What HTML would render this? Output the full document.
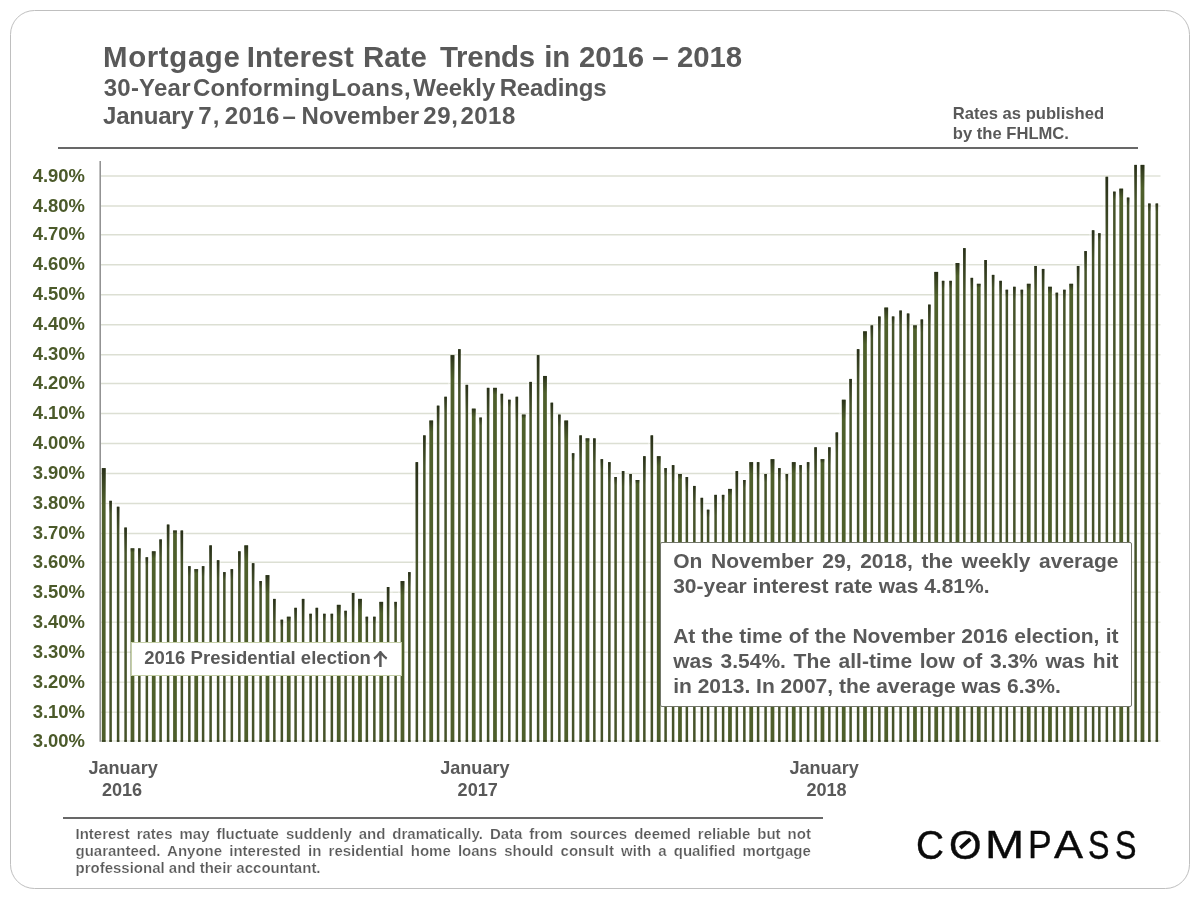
<!DOCTYPE html>
<html lang="en">
<head>
<meta charset="utf-8">
<title>Mortgage Interest Rate Trends in 2016 – 2018</title>
<style>
html,body{margin:0;padding:0;background:#fff;}
body{width:1200px;height:900px;position:relative;overflow:hidden;font-family:"Liberation Sans",sans-serif;color:#595959;font-weight:bold;}
.frame{position:absolute;left:10.2px;top:10.2px;width:1179.9px;height:879.2px;border:1.6px solid #bfbfbf;border-radius:24.5px;box-sizing:border-box;background:#fff;}
.abs{position:absolute;white-space:pre;}
.wl{position:absolute;left:0;width:1200px;white-space:pre;}
.wl span{position:absolute;top:0;}
.rule{position:absolute;background:#686868;height:2.2px;}
.elec{position:absolute;left:130.5px;top:642px;width:271px;height:34px;box-sizing:border-box;border:1px solid #c5cfa8;background:#fff;}
.arr{position:absolute;overflow:hidden;width:16px;height:15.8px;}
.arr span{position:absolute;left:-6.65px;top:-9.96px;font-family:"Noto Sans CJK JP","DejaVu Sans",sans-serif;font-weight:500;font-size:29.3px;line-height:43.95px;white-space:pre;}
.box{position:absolute;left:660.4px;top:542px;width:471.6px;height:164.6px;box-sizing:border-box;border:1.5px solid #73776a;border-radius:2px;background:#fff;}
svg{position:absolute;left:0;top:0;}
.logo{position:absolute;left:0;width:1200px;height:50px;font-weight:normal;font-size:38.1px;line-height:50px;color:#0a0a0a;white-space:pre;-webkit-text-stroke:0.4px #0a0a0a;}
.logo span{position:absolute;top:0;transform-origin:0 23.9px;}
.yl text{font-family:"Liberation Sans",sans-serif;font-weight:bold;}
</style>
</head>
<body>
<div class="frame"></div>
<div class="wl title" style="top:38.71px;font-size:29.4px;line-height:35px;"><span style="left:103.10px;letter-spacing:0.636px">Mortgage </span><span style="left:246.70px;letter-spacing:0.150px">Interest </span><span style="left:362.90px;letter-spacing:0.050px">Rate </span><span style="left:440.05px;letter-spacing:-0.260px">Trends </span><span style="left:544.20px;letter-spacing:-0.150px">in </span><span style="left:579.00px;letter-spacing:-0.083px">2016 </span><span style="left:652.30px;letter-spacing:0.000px">– </span><span style="left:677.00px;letter-spacing:-0.067px">2018</span></div>
<div class="wl sub" style="top:73.08px;font-size:24px;line-height:29px;"><span style="left:103.75px;letter-spacing:0.225px">30-Year </span><span style="left:193.10px;letter-spacing:0.083px">Conforming </span><span style="left:331.60px;letter-spacing:0.330px">Loans, </span><span style="left:413.30px;letter-spacing:-0.060px">Weekly </span><span style="left:499.70px;letter-spacing:-0.171px">Readings</span></div>
<div class="wl sub" style="top:101.08px;font-size:24px;line-height:29px;"><span style="left:103.10px;letter-spacing:-0.225px">January </span><span style="left:198.20px;letter-spacing:1.200px">7, </span><span style="left:224.75px;letter-spacing:0.417px">2016 </span><span style="left:282.45px;letter-spacing:0.000px">– </span><span style="left:301.60px;letter-spacing:0.029px">November </span><span style="left:423.15px;letter-spacing:0.650px">29, </span><span style="left:460.55px;letter-spacing:0.433px">2018</span></div>
<div class="abs" style="left:952.8px;top:103px;font-size:16.6px;line-height:21px;height:21px;">Rates as published</div>
<div class="abs" style="left:952.8px;top:123px;font-size:16.6px;line-height:21px;height:21px;">by the FHLMC.</div>
<div class="rule" style="left:58px;top:147px;width:1080px;"></div>
<svg width="1200" height="900" viewBox="0 0 1200 900">
<defs>
<linearGradient id="cap" x1="0" y1="0" x2="0" y2="1">
<stop offset="0" stop-color="#252b18" stop-opacity="0.92"/>
<stop offset="0.3" stop-color="#282e19" stop-opacity="0.62"/>
<stop offset="1" stop-color="#2c331b" stop-opacity="0"/>
</linearGradient>
</defs>
<g stroke="#dcdfd3" stroke-width="1.3" fill="none">
<line x1="270.9" x2="384.7" y1="592.25" y2="592.25"/>
<line x1="392.2" x2="398.4" y1="592.25" y2="592.25"/>
<line x1="185.9" x2="207.2" y1="562.25" y2="562.25"/>
<line x1="220.9" x2="235.9" y1="562.25" y2="562.25"/>
<line x1="249.7" x2="413.4" y1="562.25" y2="562.25"/>
<line x1="128.4" x2="164.7" y1="533.50" y2="533.50"/>
<line x1="185.9" x2="413.4" y1="533.50" y2="533.50"/>
<line x1="114.6" x2="413.4" y1="503.50" y2="503.50"/>
<line x1="704.6" x2="712.1" y1="503.50" y2="503.50"/>
<line x1="107.1" x2="413.4" y1="473.50" y2="473.50"/>
<line x1="612.1" x2="619.6" y1="473.50" y2="473.50"/>
<line x1="627.1" x2="640.9" y1="473.50" y2="473.50"/>
<line x1="675.9" x2="733.4" y1="473.50" y2="473.50"/>
<line x1="740.9" x2="747.1" y1="473.50" y2="473.50"/>
<line x1="762.1" x2="768.4" y1="473.50" y2="473.50"/>
<line x1="783.4" x2="789.6" y1="473.50" y2="473.50"/>
<line x1="101.0" x2="420.9" y1="443.50" y2="443.50"/>
<line x1="569.6" x2="577.1" y1="443.50" y2="443.50"/>
<line x1="598.4" x2="648.4" y1="443.50" y2="443.50"/>
<line x1="654.6" x2="833.4" y1="443.50" y2="443.50"/>
<line x1="101.0" x2="434.7" y1="413.50" y2="413.50"/>
<line x1="477.2" x2="484.7" y1="413.50" y2="413.50"/>
<line x1="519.6" x2="527.1" y1="413.50" y2="413.50"/>
<line x1="555.9" x2="839.6" y1="413.50" y2="413.50"/>
<line x1="101.0" x2="448.4" y1="383.50" y2="383.50"/>
<line x1="463.4" x2="527.1" y1="383.50" y2="383.50"/>
<line x1="548.4" x2="847.1" y1="383.50" y2="383.50"/>
<line x1="101.0" x2="455.9" y1="354.75" y2="354.75"/>
<line x1="463.4" x2="854.6" y1="354.75" y2="354.75"/>
<line x1="101.0" x2="875.9" y1="324.75" y2="324.75"/>
<line x1="910.9" x2="918.4" y1="324.75" y2="324.75"/>
<line x1="101.0" x2="932.1" y1="294.75" y2="294.75"/>
<line x1="101.0" x2="953.4" y1="264.75" y2="264.75"/>
<line x1="968.4" x2="982.1" y1="264.75" y2="264.75"/>
<line x1="989.6" x2="1082.1" y1="264.75" y2="264.75"/>
<line x1="101.0" x2="1089.6" y1="234.75" y2="234.75"/>
<line x1="101.0" x2="1103.4" y1="206.00" y2="206.00"/>
<line x1="101.0" x2="1132.1" y1="176.00" y2="176.00"/>
<line x1="1145.9" x2="1160.5" y1="176.00" y2="176.00"/>
</g>
<g stroke="#e6e8de" stroke-width="1.3" fill="none">
<line x1="101.0" x2="1160.5" y1="741.00" y2="741.00"/>
<line x1="101.0" x2="1160.5" y1="712.25" y2="712.25"/>
<line x1="101.0" x2="1160.5" y1="682.25" y2="682.25"/>
<line x1="101.0" x2="1160.5" y1="652.25" y2="652.25"/>
<line x1="101.0" x2="1160.5" y1="622.25" y2="622.25"/>
<line x1="101.0" x2="270.9" y1="592.25" y2="592.25"/>
<line x1="384.7" x2="392.2" y1="592.25" y2="592.25"/>
<line x1="398.4" x2="1160.5" y1="592.25" y2="592.25"/>
<line x1="101.0" x2="185.9" y1="562.25" y2="562.25"/>
<line x1="207.2" x2="220.9" y1="562.25" y2="562.25"/>
<line x1="235.9" x2="249.7" y1="562.25" y2="562.25"/>
<line x1="413.4" x2="1160.5" y1="562.25" y2="562.25"/>
<line x1="101.0" x2="128.4" y1="533.50" y2="533.50"/>
<line x1="164.7" x2="185.9" y1="533.50" y2="533.50"/>
<line x1="413.4" x2="1160.5" y1="533.50" y2="533.50"/>
<line x1="101.0" x2="114.6" y1="503.50" y2="503.50"/>
<line x1="413.4" x2="704.6" y1="503.50" y2="503.50"/>
<line x1="712.1" x2="1160.5" y1="503.50" y2="503.50"/>
<line x1="101.0" x2="107.1" y1="473.50" y2="473.50"/>
<line x1="413.4" x2="612.1" y1="473.50" y2="473.50"/>
<line x1="619.6" x2="627.1" y1="473.50" y2="473.50"/>
<line x1="640.9" x2="675.9" y1="473.50" y2="473.50"/>
<line x1="733.4" x2="740.9" y1="473.50" y2="473.50"/>
<line x1="747.1" x2="762.1" y1="473.50" y2="473.50"/>
<line x1="768.4" x2="783.4" y1="473.50" y2="473.50"/>
<line x1="789.6" x2="1160.5" y1="473.50" y2="473.50"/>
<line x1="420.9" x2="569.6" y1="443.50" y2="443.50"/>
<line x1="577.1" x2="598.4" y1="443.50" y2="443.50"/>
<line x1="648.4" x2="654.6" y1="443.50" y2="443.50"/>
<line x1="833.4" x2="1160.5" y1="443.50" y2="443.50"/>
<line x1="434.7" x2="477.2" y1="413.50" y2="413.50"/>
<line x1="484.7" x2="519.6" y1="413.50" y2="413.50"/>
<line x1="527.1" x2="555.9" y1="413.50" y2="413.50"/>
<line x1="839.6" x2="1160.5" y1="413.50" y2="413.50"/>
<line x1="448.4" x2="463.4" y1="383.50" y2="383.50"/>
<line x1="527.1" x2="548.4" y1="383.50" y2="383.50"/>
<line x1="847.1" x2="1160.5" y1="383.50" y2="383.50"/>
<line x1="455.9" x2="463.4" y1="354.75" y2="354.75"/>
<line x1="854.6" x2="1160.5" y1="354.75" y2="354.75"/>
<line x1="875.9" x2="910.9" y1="324.75" y2="324.75"/>
<line x1="918.4" x2="1160.5" y1="324.75" y2="324.75"/>
<line x1="932.1" x2="1160.5" y1="294.75" y2="294.75"/>
<line x1="953.4" x2="968.4" y1="264.75" y2="264.75"/>
<line x1="982.1" x2="989.6" y1="264.75" y2="264.75"/>
<line x1="1082.1" x2="1160.5" y1="264.75" y2="264.75"/>
<line x1="1089.6" x2="1160.5" y1="234.75" y2="234.75"/>
<line x1="1103.4" x2="1160.5" y1="206.00" y2="206.00"/>
<line x1="1132.1" x2="1145.9" y1="176.00" y2="176.00"/>
</g>
<line x1="100.2" x2="100.2" y1="161" y2="741.8" stroke="#8e8e8e" stroke-width="1.5"/>
<g>
<g>
<rect x="101.85" y="468.12" width="3.75" height="273.68" fill="#4e5f2b"/>
<rect x="109.35" y="500.82" width="2.50" height="240.98" fill="#46532a"/>
<rect x="116.85" y="506.76" width="2.50" height="235.04" fill="#46532a"/>
<rect x="124.35" y="527.57" width="2.50" height="214.23" fill="#46532a"/>
<rect x="130.60" y="548.38" width="3.75" height="193.42" fill="#4e5f2b"/>
<rect x="138.10" y="548.38" width="2.50" height="193.42" fill="#46532a"/>
<rect x="145.60" y="557.30" width="2.50" height="184.50" fill="#46532a"/>
<rect x="151.85" y="551.35" width="3.75" height="190.45" fill="#4e5f2b"/>
<rect x="159.35" y="539.46" width="2.50" height="202.34" fill="#46532a"/>
<rect x="166.85" y="524.60" width="2.50" height="217.20" fill="#46532a"/>
<rect x="173.10" y="530.54" width="3.75" height="211.26" fill="#4e5f2b"/>
<rect x="180.60" y="530.54" width="2.50" height="211.26" fill="#46532a"/>
<rect x="188.10" y="566.21" width="2.50" height="175.59" fill="#46532a"/>
<rect x="194.35" y="569.19" width="3.75" height="172.61" fill="#4e5f2b"/>
<rect x="201.85" y="566.21" width="2.50" height="175.59" fill="#46532a"/>
<rect x="209.35" y="545.41" width="2.50" height="196.39" fill="#46532a"/>
<rect x="216.85" y="560.27" width="2.50" height="181.53" fill="#46532a"/>
<rect x="223.10" y="572.16" width="2.50" height="169.64" fill="#46532a"/>
<rect x="230.60" y="569.19" width="2.50" height="172.61" fill="#46532a"/>
<rect x="238.10" y="551.35" width="2.50" height="190.45" fill="#46532a"/>
<rect x="244.35" y="545.41" width="3.75" height="196.39" fill="#4e5f2b"/>
<rect x="251.85" y="563.24" width="2.50" height="178.56" fill="#46532a"/>
<rect x="259.35" y="581.08" width="2.50" height="160.72" fill="#46532a"/>
<rect x="265.60" y="575.13" width="3.75" height="166.67" fill="#4e5f2b"/>
<rect x="273.10" y="598.91" width="2.50" height="142.89" fill="#46532a"/>
<rect x="280.60" y="619.72" width="2.50" height="122.08" fill="#46532a"/>
<rect x="286.85" y="616.75" width="3.75" height="125.05" fill="#4e5f2b"/>
<rect x="294.35" y="607.83" width="2.50" height="133.97" fill="#46532a"/>
<rect x="301.85" y="598.91" width="2.50" height="142.89" fill="#46532a"/>
<rect x="309.35" y="613.78" width="2.50" height="128.02" fill="#46532a"/>
<rect x="315.60" y="607.83" width="2.50" height="133.97" fill="#46532a"/>
<rect x="323.10" y="613.78" width="2.50" height="128.02" fill="#46532a"/>
<rect x="330.60" y="613.78" width="2.50" height="128.02" fill="#46532a"/>
<rect x="336.85" y="604.86" width="3.75" height="136.94" fill="#4e5f2b"/>
<rect x="344.35" y="610.80" width="2.50" height="131.00" fill="#46532a"/>
<rect x="351.85" y="592.97" width="2.50" height="148.83" fill="#46532a"/>
<rect x="358.10" y="598.91" width="3.75" height="142.89" fill="#4e5f2b"/>
<rect x="365.60" y="616.75" width="2.50" height="125.05" fill="#46532a"/>
<rect x="373.10" y="616.75" width="2.50" height="125.05" fill="#46532a"/>
<rect x="379.35" y="601.89" width="3.75" height="139.91" fill="#4e5f2b"/>
<rect x="386.85" y="587.02" width="2.50" height="154.78" fill="#46532a"/>
<rect x="394.35" y="601.89" width="2.50" height="139.91" fill="#46532a"/>
<rect x="400.60" y="581.08" width="3.75" height="160.72" fill="#4e5f2b"/>
<rect x="408.10" y="572.16" width="2.50" height="169.64" fill="#46532a"/>
<rect x="415.60" y="462.17" width="2.50" height="279.63" fill="#46532a"/>
<rect x="423.10" y="435.42" width="2.50" height="306.38" fill="#46532a"/>
<rect x="429.35" y="420.56" width="3.75" height="321.24" fill="#4e5f2b"/>
<rect x="436.85" y="405.69" width="2.50" height="336.11" fill="#46532a"/>
<rect x="444.35" y="396.77" width="2.50" height="345.03" fill="#46532a"/>
<rect x="450.60" y="355.16" width="3.75" height="386.64" fill="#4e5f2b"/>
<rect x="458.10" y="349.21" width="2.50" height="392.59" fill="#46532a"/>
<rect x="465.60" y="384.88" width="2.50" height="356.92" fill="#46532a"/>
<rect x="471.85" y="408.67" width="3.75" height="333.13" fill="#4e5f2b"/>
<rect x="479.35" y="417.58" width="2.50" height="324.22" fill="#46532a"/>
<rect x="486.85" y="387.86" width="2.50" height="353.94" fill="#46532a"/>
<rect x="493.10" y="387.86" width="3.75" height="353.94" fill="#4e5f2b"/>
<rect x="500.60" y="393.80" width="2.50" height="348.00" fill="#46532a"/>
<rect x="508.10" y="399.75" width="2.50" height="342.05" fill="#46532a"/>
<rect x="515.60" y="396.77" width="2.50" height="345.03" fill="#46532a"/>
<rect x="521.85" y="414.61" width="3.75" height="327.19" fill="#4e5f2b"/>
<rect x="529.35" y="381.91" width="2.50" height="359.89" fill="#46532a"/>
<rect x="536.85" y="355.16" width="2.50" height="386.64" fill="#46532a"/>
<rect x="543.10" y="375.97" width="3.75" height="365.83" fill="#4e5f2b"/>
<rect x="550.60" y="402.72" width="2.50" height="339.08" fill="#46532a"/>
<rect x="558.10" y="414.61" width="2.50" height="327.19" fill="#46532a"/>
<rect x="564.35" y="420.56" width="3.75" height="321.24" fill="#4e5f2b"/>
<rect x="571.85" y="453.25" width="2.50" height="288.55" fill="#46532a"/>
<rect x="579.35" y="435.42" width="2.50" height="306.38" fill="#46532a"/>
<rect x="585.60" y="438.39" width="3.75" height="303.41" fill="#4e5f2b"/>
<rect x="593.10" y="438.39" width="2.50" height="303.41" fill="#46532a"/>
<rect x="600.60" y="459.20" width="2.50" height="282.60" fill="#46532a"/>
<rect x="608.10" y="462.17" width="2.50" height="279.63" fill="#46532a"/>
<rect x="614.35" y="477.04" width="2.50" height="264.76" fill="#46532a"/>
<rect x="621.85" y="471.09" width="2.50" height="270.71" fill="#46532a"/>
<rect x="629.35" y="474.06" width="2.50" height="267.74" fill="#46532a"/>
<rect x="635.60" y="480.01" width="3.75" height="261.79" fill="#4e5f2b"/>
<rect x="643.10" y="456.23" width="2.50" height="285.57" fill="#46532a"/>
<rect x="650.60" y="435.42" width="2.50" height="306.38" fill="#46532a"/>
<rect x="656.85" y="456.23" width="3.75" height="285.57" fill="#4e5f2b"/>
<rect x="664.35" y="468.12" width="2.50" height="273.68" fill="#46532a"/>
<rect x="671.85" y="465.15" width="2.50" height="276.65" fill="#46532a"/>
<rect x="678.10" y="474.06" width="3.75" height="267.74" fill="#4e5f2b"/>
<rect x="685.60" y="477.04" width="2.50" height="264.76" fill="#46532a"/>
<rect x="693.10" y="485.95" width="2.50" height="255.85" fill="#46532a"/>
<rect x="700.60" y="497.84" width="2.50" height="243.96" fill="#46532a"/>
<rect x="706.85" y="509.73" width="2.50" height="232.07" fill="#46532a"/>
<rect x="714.35" y="494.87" width="2.50" height="246.93" fill="#46532a"/>
<rect x="721.85" y="494.87" width="2.50" height="246.93" fill="#46532a"/>
<rect x="728.10" y="488.93" width="3.75" height="252.87" fill="#4e5f2b"/>
<rect x="735.60" y="471.09" width="2.50" height="270.71" fill="#46532a"/>
<rect x="743.10" y="480.01" width="2.50" height="261.79" fill="#46532a"/>
<rect x="749.35" y="462.17" width="3.75" height="279.63" fill="#4e5f2b"/>
<rect x="756.85" y="462.17" width="2.50" height="279.63" fill="#46532a"/>
<rect x="764.35" y="474.06" width="2.50" height="267.74" fill="#46532a"/>
<rect x="770.60" y="459.20" width="3.75" height="282.60" fill="#4e5f2b"/>
<rect x="778.10" y="468.12" width="2.50" height="273.68" fill="#46532a"/>
<rect x="785.60" y="474.06" width="2.50" height="267.74" fill="#46532a"/>
<rect x="791.85" y="462.17" width="3.75" height="279.63" fill="#4e5f2b"/>
<rect x="799.35" y="465.15" width="2.50" height="276.65" fill="#46532a"/>
<rect x="806.85" y="462.17" width="2.50" height="279.63" fill="#46532a"/>
<rect x="814.35" y="447.31" width="2.50" height="294.49" fill="#46532a"/>
<rect x="820.60" y="459.20" width="3.75" height="282.60" fill="#4e5f2b"/>
<rect x="828.10" y="447.31" width="2.50" height="294.49" fill="#46532a"/>
<rect x="835.60" y="432.45" width="2.50" height="309.35" fill="#46532a"/>
<rect x="841.85" y="399.75" width="3.75" height="342.05" fill="#4e5f2b"/>
<rect x="849.35" y="378.94" width="2.50" height="362.86" fill="#46532a"/>
<rect x="856.85" y="349.21" width="2.50" height="392.59" fill="#46532a"/>
<rect x="863.10" y="331.38" width="3.75" height="410.42" fill="#4e5f2b"/>
<rect x="870.60" y="325.43" width="2.50" height="416.37" fill="#46532a"/>
<rect x="878.10" y="316.51" width="2.50" height="425.29" fill="#46532a"/>
<rect x="884.35" y="307.60" width="3.75" height="434.20" fill="#4e5f2b"/>
<rect x="891.85" y="316.51" width="2.50" height="425.29" fill="#46532a"/>
<rect x="899.35" y="310.57" width="2.50" height="431.23" fill="#46532a"/>
<rect x="906.85" y="313.54" width="2.50" height="428.26" fill="#46532a"/>
<rect x="913.10" y="325.43" width="3.75" height="416.37" fill="#4e5f2b"/>
<rect x="920.60" y="319.49" width="2.50" height="422.31" fill="#46532a"/>
<rect x="928.10" y="304.62" width="2.50" height="437.18" fill="#46532a"/>
<rect x="934.35" y="271.92" width="3.75" height="469.88" fill="#4e5f2b"/>
<rect x="941.85" y="280.84" width="2.50" height="460.96" fill="#46532a"/>
<rect x="949.35" y="280.84" width="2.50" height="460.96" fill="#46532a"/>
<rect x="955.60" y="263.01" width="3.75" height="478.79" fill="#4e5f2b"/>
<rect x="963.10" y="248.14" width="2.50" height="493.66" fill="#46532a"/>
<rect x="970.60" y="277.87" width="2.50" height="463.93" fill="#46532a"/>
<rect x="976.85" y="283.81" width="3.75" height="457.99" fill="#4e5f2b"/>
<rect x="984.35" y="260.03" width="2.50" height="481.77" fill="#46532a"/>
<rect x="991.85" y="274.90" width="2.50" height="466.90" fill="#46532a"/>
<rect x="999.35" y="280.84" width="2.50" height="460.96" fill="#46532a"/>
<rect x="1005.60" y="289.76" width="2.50" height="452.04" fill="#46532a"/>
<rect x="1013.10" y="286.79" width="2.50" height="455.01" fill="#46532a"/>
<rect x="1020.60" y="289.76" width="2.50" height="452.04" fill="#46532a"/>
<rect x="1026.85" y="283.81" width="3.75" height="457.99" fill="#4e5f2b"/>
<rect x="1034.35" y="265.98" width="2.50" height="475.82" fill="#46532a"/>
<rect x="1041.85" y="268.95" width="2.50" height="472.85" fill="#46532a"/>
<rect x="1048.10" y="286.79" width="3.75" height="455.01" fill="#4e5f2b"/>
<rect x="1055.60" y="292.73" width="2.50" height="449.07" fill="#46532a"/>
<rect x="1063.10" y="289.76" width="2.50" height="452.04" fill="#46532a"/>
<rect x="1069.35" y="283.81" width="3.75" height="457.99" fill="#4e5f2b"/>
<rect x="1076.85" y="265.98" width="2.50" height="475.82" fill="#46532a"/>
<rect x="1084.35" y="251.12" width="2.50" height="490.68" fill="#46532a"/>
<rect x="1091.85" y="230.31" width="2.50" height="511.49" fill="#46532a"/>
<rect x="1098.10" y="233.28" width="2.50" height="508.52" fill="#46532a"/>
<rect x="1105.60" y="176.80" width="2.50" height="565.00" fill="#46532a"/>
<rect x="1113.10" y="191.66" width="2.50" height="550.14" fill="#46532a"/>
<rect x="1119.35" y="188.69" width="3.75" height="553.11" fill="#4e5f2b"/>
<rect x="1126.85" y="197.61" width="2.50" height="544.19" fill="#46532a"/>
<rect x="1134.35" y="164.91" width="2.50" height="576.89" fill="#46532a"/>
<rect x="1140.60" y="164.91" width="3.75" height="576.89" fill="#4e5f2b"/>
<rect x="1148.10" y="203.55" width="2.50" height="538.25" fill="#46532a"/>
<rect x="1155.60" y="203.55" width="2.50" height="538.25" fill="#46532a"/>
</g>
<g fill="url(#cap)">
<rect x="101.85" y="468.12" width="3.75" height="36.70"/>
<rect x="109.35" y="500.82" width="2.50" height="13.05"/>
<rect x="116.85" y="506.76" width="2.50" height="25.69"/>
<rect x="124.35" y="527.57" width="2.50" height="25.69"/>
<rect x="130.60" y="548.38" width="3.75" height="4.00"/>
<rect x="138.10" y="548.38" width="2.50" height="15.58"/>
<rect x="145.60" y="557.30" width="2.50" height="8.00"/>
<rect x="151.85" y="551.35" width="3.75" height="6.97"/>
<rect x="159.35" y="539.46" width="2.50" height="18.11"/>
<rect x="166.85" y="524.60" width="2.50" height="25.69"/>
<rect x="173.10" y="530.54" width="3.75" height="4.00"/>
<rect x="180.60" y="530.54" width="2.50" height="38.32"/>
<rect x="188.10" y="566.21" width="2.50" height="10.53"/>
<rect x="194.35" y="569.19" width="3.75" height="4.00"/>
<rect x="201.85" y="566.21" width="2.50" height="10.53"/>
<rect x="209.35" y="545.41" width="2.50" height="38.32"/>
<rect x="216.85" y="560.27" width="2.50" height="18.11"/>
<rect x="223.10" y="572.16" width="2.50" height="8.00"/>
<rect x="230.60" y="569.19" width="2.50" height="10.53"/>
<rect x="238.10" y="551.35" width="2.50" height="23.16"/>
<rect x="244.35" y="545.41" width="3.75" height="15.89"/>
<rect x="251.85" y="563.24" width="2.50" height="23.16"/>
<rect x="259.35" y="581.08" width="2.50" height="8.00"/>
<rect x="265.60" y="575.13" width="3.75" height="18.86"/>
<rect x="273.10" y="598.91" width="2.50" height="25.69"/>
<rect x="280.60" y="619.72" width="2.50" height="8.00"/>
<rect x="286.85" y="616.75" width="3.75" height="5.49"/>
<rect x="294.35" y="607.83" width="2.50" height="15.58"/>
<rect x="301.85" y="598.91" width="2.50" height="28.21"/>
<rect x="309.35" y="613.78" width="2.50" height="8.00"/>
<rect x="315.60" y="607.83" width="2.50" height="18.11"/>
<rect x="323.10" y="613.78" width="2.50" height="8.00"/>
<rect x="330.60" y="613.78" width="2.50" height="8.00"/>
<rect x="336.85" y="604.86" width="3.75" height="11.43"/>
<rect x="344.35" y="610.80" width="2.50" height="8.00"/>
<rect x="351.85" y="592.97" width="2.50" height="28.21"/>
<rect x="358.10" y="598.91" width="3.75" height="12.92"/>
<rect x="365.60" y="616.75" width="2.50" height="8.00"/>
<rect x="373.10" y="616.75" width="2.50" height="8.00"/>
<rect x="379.35" y="601.89" width="3.75" height="11.43"/>
<rect x="386.85" y="587.02" width="2.50" height="33.27"/>
<rect x="394.35" y="601.89" width="2.50" height="8.00"/>
<rect x="400.60" y="581.08" width="3.75" height="14.40"/>
<rect x="408.10" y="572.16" width="2.50" height="15.58"/>
<rect x="415.60" y="462.17" width="2.50" height="101.49"/>
<rect x="423.10" y="435.42" width="2.50" height="30.74"/>
<rect x="429.35" y="420.56" width="3.75" height="11.43"/>
<rect x="436.85" y="405.69" width="2.50" height="20.63"/>
<rect x="444.35" y="396.77" width="2.50" height="15.58"/>
<rect x="450.60" y="355.16" width="3.75" height="24.81"/>
<rect x="458.10" y="349.21" width="2.50" height="43.37"/>
<rect x="465.60" y="384.88" width="2.50" height="28.21"/>
<rect x="471.85" y="408.67" width="3.75" height="8.46"/>
<rect x="479.35" y="417.58" width="2.50" height="8.00"/>
<rect x="486.85" y="387.86" width="2.50" height="33.27"/>
<rect x="493.10" y="387.86" width="3.75" height="6.97"/>
<rect x="500.60" y="393.80" width="2.50" height="13.05"/>
<rect x="508.10" y="399.75" width="2.50" height="8.00"/>
<rect x="515.60" y="396.77" width="2.50" height="25.69"/>
<rect x="521.85" y="414.61" width="3.75" height="4.00"/>
<rect x="529.35" y="381.91" width="2.50" height="35.79"/>
<rect x="536.85" y="355.16" width="2.50" height="48.43"/>
<rect x="543.10" y="375.97" width="3.75" height="17.38"/>
<rect x="550.60" y="402.72" width="2.50" height="18.11"/>
<rect x="558.10" y="414.61" width="2.50" height="13.05"/>
<rect x="564.35" y="420.56" width="3.75" height="20.35"/>
<rect x="571.85" y="453.25" width="2.50" height="8.00"/>
<rect x="579.35" y="435.42" width="2.50" height="25.69"/>
<rect x="585.60" y="438.39" width="3.75" height="4.00"/>
<rect x="593.10" y="438.39" width="2.50" height="25.69"/>
<rect x="600.60" y="459.20" width="2.50" height="10.53"/>
<rect x="608.10" y="462.17" width="2.50" height="20.63"/>
<rect x="614.35" y="477.04" width="2.50" height="8.00"/>
<rect x="621.85" y="471.09" width="2.50" height="15.58"/>
<rect x="629.35" y="474.06" width="2.50" height="13.05"/>
<rect x="635.60" y="480.01" width="3.75" height="4.00"/>
<rect x="643.10" y="456.23" width="2.50" height="28.21"/>
<rect x="650.60" y="435.42" width="2.50" height="43.37"/>
<rect x="656.85" y="456.23" width="3.75" height="9.95"/>
<rect x="664.35" y="468.12" width="2.50" height="8.00"/>
<rect x="671.85" y="465.15" width="2.50" height="18.11"/>
<rect x="678.10" y="474.06" width="3.75" height="5.49"/>
<rect x="685.60" y="477.04" width="2.50" height="15.58"/>
<rect x="693.10" y="485.95" width="2.50" height="18.11"/>
<rect x="700.60" y="497.84" width="2.50" height="18.11"/>
<rect x="706.85" y="509.73" width="2.50" height="8.00"/>
<rect x="714.35" y="494.87" width="2.50" height="20.63"/>
<rect x="721.85" y="494.87" width="2.50" height="8.00"/>
<rect x="728.10" y="488.93" width="3.75" height="6.97"/>
<rect x="735.60" y="471.09" width="2.50" height="30.74"/>
<rect x="743.10" y="480.01" width="2.50" height="8.00"/>
<rect x="749.35" y="462.17" width="3.75" height="12.92"/>
<rect x="756.85" y="462.17" width="2.50" height="18.11"/>
<rect x="764.35" y="474.06" width="2.50" height="8.00"/>
<rect x="770.60" y="459.20" width="3.75" height="15.89"/>
<rect x="778.10" y="468.12" width="2.50" height="13.05"/>
<rect x="785.60" y="474.06" width="2.50" height="8.00"/>
<rect x="791.85" y="462.17" width="3.75" height="11.43"/>
<rect x="799.35" y="465.15" width="2.50" height="8.00"/>
<rect x="806.85" y="462.17" width="2.50" height="10.53"/>
<rect x="814.35" y="447.31" width="2.50" height="30.74"/>
<rect x="820.60" y="459.20" width="3.75" height="4.00"/>
<rect x="828.10" y="447.31" width="2.50" height="18.11"/>
<rect x="835.60" y="432.45" width="2.50" height="20.63"/>
<rect x="841.85" y="399.75" width="3.75" height="20.35"/>
<rect x="849.35" y="378.94" width="2.50" height="25.69"/>
<rect x="856.85" y="349.21" width="2.50" height="33.27"/>
<rect x="863.10" y="331.38" width="3.75" height="12.92"/>
<rect x="870.60" y="325.43" width="2.50" height="13.05"/>
<rect x="878.10" y="316.51" width="2.50" height="15.58"/>
<rect x="884.35" y="307.60" width="3.75" height="12.92"/>
<rect x="891.85" y="316.51" width="2.50" height="8.00"/>
<rect x="899.35" y="310.57" width="2.50" height="15.58"/>
<rect x="906.85" y="313.54" width="2.50" height="18.11"/>
<rect x="913.10" y="325.43" width="3.75" height="4.00"/>
<rect x="920.60" y="319.49" width="2.50" height="13.05"/>
<rect x="928.10" y="304.62" width="2.50" height="20.63"/>
<rect x="934.35" y="271.92" width="3.75" height="24.81"/>
<rect x="941.85" y="280.84" width="2.50" height="8.00"/>
<rect x="949.35" y="280.84" width="2.50" height="8.00"/>
<rect x="955.60" y="263.01" width="3.75" height="12.92"/>
<rect x="963.10" y="248.14" width="2.50" height="45.90"/>
<rect x="970.60" y="277.87" width="2.50" height="13.05"/>
<rect x="976.85" y="283.81" width="3.75" height="4.00"/>
<rect x="984.35" y="260.03" width="2.50" height="40.85"/>
<rect x="991.85" y="274.90" width="2.50" height="13.05"/>
<rect x="999.35" y="280.84" width="2.50" height="15.58"/>
<rect x="1005.60" y="289.76" width="2.50" height="8.00"/>
<rect x="1013.10" y="286.79" width="2.50" height="13.05"/>
<rect x="1020.60" y="289.76" width="2.50" height="8.00"/>
<rect x="1026.85" y="283.81" width="3.75" height="6.97"/>
<rect x="1034.35" y="265.98" width="2.50" height="25.69"/>
<rect x="1041.85" y="268.95" width="2.50" height="23.16"/>
<rect x="1048.10" y="286.79" width="3.75" height="6.97"/>
<rect x="1055.60" y="292.73" width="2.50" height="8.00"/>
<rect x="1063.10" y="289.76" width="2.50" height="10.53"/>
<rect x="1069.35" y="283.81" width="3.75" height="6.97"/>
<rect x="1076.85" y="265.98" width="2.50" height="23.16"/>
<rect x="1084.35" y="251.12" width="2.50" height="20.63"/>
<rect x="1091.85" y="230.31" width="2.50" height="28.21"/>
<rect x="1098.10" y="233.28" width="2.50" height="8.00"/>
<rect x="1105.60" y="176.80" width="2.50" height="68.64"/>
<rect x="1113.10" y="191.66" width="2.50" height="8.00"/>
<rect x="1119.35" y="188.69" width="3.75" height="9.95"/>
<rect x="1126.85" y="197.61" width="2.50" height="8.00"/>
<rect x="1134.35" y="164.91" width="2.50" height="35.79"/>
<rect x="1140.60" y="164.91" width="3.75" height="23.32"/>
<rect x="1148.10" y="203.55" width="2.50" height="8.00"/>
<rect x="1155.60" y="203.55" width="2.50" height="8.00"/>
</g>
<g fill="#2b311b" fill-opacity="0.75">
<rect x="101.85" y="740.30" width="3.75" height="1.5"/>
<rect x="109.35" y="740.30" width="2.50" height="1.5"/>
<rect x="116.85" y="740.30" width="2.50" height="1.5"/>
<rect x="124.35" y="740.30" width="2.50" height="1.5"/>
<rect x="130.60" y="740.30" width="3.75" height="1.5"/>
<rect x="138.10" y="740.30" width="2.50" height="1.5"/>
<rect x="145.60" y="740.30" width="2.50" height="1.5"/>
<rect x="151.85" y="740.30" width="3.75" height="1.5"/>
<rect x="159.35" y="740.30" width="2.50" height="1.5"/>
<rect x="166.85" y="740.30" width="2.50" height="1.5"/>
<rect x="173.10" y="740.30" width="3.75" height="1.5"/>
<rect x="180.60" y="740.30" width="2.50" height="1.5"/>
<rect x="188.10" y="740.30" width="2.50" height="1.5"/>
<rect x="194.35" y="740.30" width="3.75" height="1.5"/>
<rect x="201.85" y="740.30" width="2.50" height="1.5"/>
<rect x="209.35" y="740.30" width="2.50" height="1.5"/>
<rect x="216.85" y="740.30" width="2.50" height="1.5"/>
<rect x="223.10" y="740.30" width="2.50" height="1.5"/>
<rect x="230.60" y="740.30" width="2.50" height="1.5"/>
<rect x="238.10" y="740.30" width="2.50" height="1.5"/>
<rect x="244.35" y="740.30" width="3.75" height="1.5"/>
<rect x="251.85" y="740.30" width="2.50" height="1.5"/>
<rect x="259.35" y="740.30" width="2.50" height="1.5"/>
<rect x="265.60" y="740.30" width="3.75" height="1.5"/>
<rect x="273.10" y="740.30" width="2.50" height="1.5"/>
<rect x="280.60" y="740.30" width="2.50" height="1.5"/>
<rect x="286.85" y="740.30" width="3.75" height="1.5"/>
<rect x="294.35" y="740.30" width="2.50" height="1.5"/>
<rect x="301.85" y="740.30" width="2.50" height="1.5"/>
<rect x="309.35" y="740.30" width="2.50" height="1.5"/>
<rect x="315.60" y="740.30" width="2.50" height="1.5"/>
<rect x="323.10" y="740.30" width="2.50" height="1.5"/>
<rect x="330.60" y="740.30" width="2.50" height="1.5"/>
<rect x="336.85" y="740.30" width="3.75" height="1.5"/>
<rect x="344.35" y="740.30" width="2.50" height="1.5"/>
<rect x="351.85" y="740.30" width="2.50" height="1.5"/>
<rect x="358.10" y="740.30" width="3.75" height="1.5"/>
<rect x="365.60" y="740.30" width="2.50" height="1.5"/>
<rect x="373.10" y="740.30" width="2.50" height="1.5"/>
<rect x="379.35" y="740.30" width="3.75" height="1.5"/>
<rect x="386.85" y="740.30" width="2.50" height="1.5"/>
<rect x="394.35" y="740.30" width="2.50" height="1.5"/>
<rect x="400.60" y="740.30" width="3.75" height="1.5"/>
<rect x="408.10" y="740.30" width="2.50" height="1.5"/>
<rect x="415.60" y="740.30" width="2.50" height="1.5"/>
<rect x="423.10" y="740.30" width="2.50" height="1.5"/>
<rect x="429.35" y="740.30" width="3.75" height="1.5"/>
<rect x="436.85" y="740.30" width="2.50" height="1.5"/>
<rect x="444.35" y="740.30" width="2.50" height="1.5"/>
<rect x="450.60" y="740.30" width="3.75" height="1.5"/>
<rect x="458.10" y="740.30" width="2.50" height="1.5"/>
<rect x="465.60" y="740.30" width="2.50" height="1.5"/>
<rect x="471.85" y="740.30" width="3.75" height="1.5"/>
<rect x="479.35" y="740.30" width="2.50" height="1.5"/>
<rect x="486.85" y="740.30" width="2.50" height="1.5"/>
<rect x="493.10" y="740.30" width="3.75" height="1.5"/>
<rect x="500.60" y="740.30" width="2.50" height="1.5"/>
<rect x="508.10" y="740.30" width="2.50" height="1.5"/>
<rect x="515.60" y="740.30" width="2.50" height="1.5"/>
<rect x="521.85" y="740.30" width="3.75" height="1.5"/>
<rect x="529.35" y="740.30" width="2.50" height="1.5"/>
<rect x="536.85" y="740.30" width="2.50" height="1.5"/>
<rect x="543.10" y="740.30" width="3.75" height="1.5"/>
<rect x="550.60" y="740.30" width="2.50" height="1.5"/>
<rect x="558.10" y="740.30" width="2.50" height="1.5"/>
<rect x="564.35" y="740.30" width="3.75" height="1.5"/>
<rect x="571.85" y="740.30" width="2.50" height="1.5"/>
<rect x="579.35" y="740.30" width="2.50" height="1.5"/>
<rect x="585.60" y="740.30" width="3.75" height="1.5"/>
<rect x="593.10" y="740.30" width="2.50" height="1.5"/>
<rect x="600.60" y="740.30" width="2.50" height="1.5"/>
<rect x="608.10" y="740.30" width="2.50" height="1.5"/>
<rect x="614.35" y="740.30" width="2.50" height="1.5"/>
<rect x="621.85" y="740.30" width="2.50" height="1.5"/>
<rect x="629.35" y="740.30" width="2.50" height="1.5"/>
<rect x="635.60" y="740.30" width="3.75" height="1.5"/>
<rect x="643.10" y="740.30" width="2.50" height="1.5"/>
<rect x="650.60" y="740.30" width="2.50" height="1.5"/>
<rect x="656.85" y="740.30" width="3.75" height="1.5"/>
<rect x="664.35" y="740.30" width="2.50" height="1.5"/>
<rect x="671.85" y="740.30" width="2.50" height="1.5"/>
<rect x="678.10" y="740.30" width="3.75" height="1.5"/>
<rect x="685.60" y="740.30" width="2.50" height="1.5"/>
<rect x="693.10" y="740.30" width="2.50" height="1.5"/>
<rect x="700.60" y="740.30" width="2.50" height="1.5"/>
<rect x="706.85" y="740.30" width="2.50" height="1.5"/>
<rect x="714.35" y="740.30" width="2.50" height="1.5"/>
<rect x="721.85" y="740.30" width="2.50" height="1.5"/>
<rect x="728.10" y="740.30" width="3.75" height="1.5"/>
<rect x="735.60" y="740.30" width="2.50" height="1.5"/>
<rect x="743.10" y="740.30" width="2.50" height="1.5"/>
<rect x="749.35" y="740.30" width="3.75" height="1.5"/>
<rect x="756.85" y="740.30" width="2.50" height="1.5"/>
<rect x="764.35" y="740.30" width="2.50" height="1.5"/>
<rect x="770.60" y="740.30" width="3.75" height="1.5"/>
<rect x="778.10" y="740.30" width="2.50" height="1.5"/>
<rect x="785.60" y="740.30" width="2.50" height="1.5"/>
<rect x="791.85" y="740.30" width="3.75" height="1.5"/>
<rect x="799.35" y="740.30" width="2.50" height="1.5"/>
<rect x="806.85" y="740.30" width="2.50" height="1.5"/>
<rect x="814.35" y="740.30" width="2.50" height="1.5"/>
<rect x="820.60" y="740.30" width="3.75" height="1.5"/>
<rect x="828.10" y="740.30" width="2.50" height="1.5"/>
<rect x="835.60" y="740.30" width="2.50" height="1.5"/>
<rect x="841.85" y="740.30" width="3.75" height="1.5"/>
<rect x="849.35" y="740.30" width="2.50" height="1.5"/>
<rect x="856.85" y="740.30" width="2.50" height="1.5"/>
<rect x="863.10" y="740.30" width="3.75" height="1.5"/>
<rect x="870.60" y="740.30" width="2.50" height="1.5"/>
<rect x="878.10" y="740.30" width="2.50" height="1.5"/>
<rect x="884.35" y="740.30" width="3.75" height="1.5"/>
<rect x="891.85" y="740.30" width="2.50" height="1.5"/>
<rect x="899.35" y="740.30" width="2.50" height="1.5"/>
<rect x="906.85" y="740.30" width="2.50" height="1.5"/>
<rect x="913.10" y="740.30" width="3.75" height="1.5"/>
<rect x="920.60" y="740.30" width="2.50" height="1.5"/>
<rect x="928.10" y="740.30" width="2.50" height="1.5"/>
<rect x="934.35" y="740.30" width="3.75" height="1.5"/>
<rect x="941.85" y="740.30" width="2.50" height="1.5"/>
<rect x="949.35" y="740.30" width="2.50" height="1.5"/>
<rect x="955.60" y="740.30" width="3.75" height="1.5"/>
<rect x="963.10" y="740.30" width="2.50" height="1.5"/>
<rect x="970.60" y="740.30" width="2.50" height="1.5"/>
<rect x="976.85" y="740.30" width="3.75" height="1.5"/>
<rect x="984.35" y="740.30" width="2.50" height="1.5"/>
<rect x="991.85" y="740.30" width="2.50" height="1.5"/>
<rect x="999.35" y="740.30" width="2.50" height="1.5"/>
<rect x="1005.60" y="740.30" width="2.50" height="1.5"/>
<rect x="1013.10" y="740.30" width="2.50" height="1.5"/>
<rect x="1020.60" y="740.30" width="2.50" height="1.5"/>
<rect x="1026.85" y="740.30" width="3.75" height="1.5"/>
<rect x="1034.35" y="740.30" width="2.50" height="1.5"/>
<rect x="1041.85" y="740.30" width="2.50" height="1.5"/>
<rect x="1048.10" y="740.30" width="3.75" height="1.5"/>
<rect x="1055.60" y="740.30" width="2.50" height="1.5"/>
<rect x="1063.10" y="740.30" width="2.50" height="1.5"/>
<rect x="1069.35" y="740.30" width="3.75" height="1.5"/>
<rect x="1076.85" y="740.30" width="2.50" height="1.5"/>
<rect x="1084.35" y="740.30" width="2.50" height="1.5"/>
<rect x="1091.85" y="740.30" width="2.50" height="1.5"/>
<rect x="1098.10" y="740.30" width="2.50" height="1.5"/>
<rect x="1105.60" y="740.30" width="2.50" height="1.5"/>
<rect x="1113.10" y="740.30" width="2.50" height="1.5"/>
<rect x="1119.35" y="740.30" width="3.75" height="1.5"/>
<rect x="1126.85" y="740.30" width="2.50" height="1.5"/>
<rect x="1134.35" y="740.30" width="2.50" height="1.5"/>
<rect x="1140.60" y="740.30" width="3.75" height="1.5"/>
<rect x="1148.10" y="740.30" width="2.50" height="1.5"/>
<rect x="1155.60" y="740.30" width="2.50" height="1.5"/>
</g>
</g>
<g class="yl" fill="#4b5a2a" font-size="18.45" text-anchor="end">
<text x="85" y="746.60">3.00%</text>
<text x="85" y="717.85">3.10%</text>
<text x="85" y="687.85">3.20%</text>
<text x="85" y="657.85">3.30%</text>
<text x="85" y="627.85">3.40%</text>
<text x="85" y="597.85">3.50%</text>
<text x="85" y="567.85">3.60%</text>
<text x="85" y="539.10">3.70%</text>
<text x="85" y="509.10">3.80%</text>
<text x="85" y="479.10">3.90%</text>
<text x="85" y="449.10">4.00%</text>
<text x="85" y="419.10">4.10%</text>
<text x="85" y="389.10">4.20%</text>
<text x="85" y="360.35">4.30%</text>
<text x="85" y="330.35">4.40%</text>
<text x="85" y="300.35">4.50%</text>
<text x="85" y="270.35">4.60%</text>
<text x="85" y="240.35">4.70%</text>
<text x="85" y="211.60">4.80%</text>
<text x="85" y="181.60">4.90%</text>
</g>
</svg>
<div class="abs" style="left:88.4px;top:757px;font-size:18.1px;line-height:22px;height:22px;">January</div>
<div class="abs" style="left:101.9px;top:779px;font-size:18.1px;line-height:22px;height:22px;">2016</div>
<div class="abs" style="left:440.2px;top:757px;font-size:18.1px;line-height:22px;height:22px;">January</div>
<div class="abs" style="left:457.6px;top:779px;font-size:18.1px;line-height:22px;height:22px;">2017</div>
<div class="abs" style="left:789.4px;top:757px;font-size:18.1px;line-height:22px;height:22px;">January</div>
<div class="abs" style="left:806.4px;top:779px;font-size:18.1px;line-height:22px;height:22px;">2018</div>
<div class="elec"></div>
<div class="abs" style="left:144.2px;top:646px;font-size:18.5px;line-height:23px;height:23px;letter-spacing:0.02px;">2016 Presidential election</div>
<div class="arr" style="left:372.5px;top:650.8px;"><span>↑</span></div>
<div class="box"></div>
<div class="abs" style="left:673.2px;top:548px;font-size:21px;line-height:25px;height:25px;width:445.3px;white-space:normal;text-align:justify;text-align-last:justify;">On November 29, 2018, the weekly average</div>
<div class="abs" style="left:673.2px;top:573px;font-size:21px;line-height:25px;height:25px;">30-year interest rate was 4.81%.</div>
<div class="abs" style="left:673.2px;top:623px;font-size:21px;line-height:25px;height:25px;width:445.3px;white-space:normal;text-align:justify;text-align-last:justify;">At the time of the November 2016 election, it</div>
<div class="abs" style="left:673.2px;top:648px;font-size:21px;line-height:25px;height:25px;width:445.3px;white-space:normal;text-align:justify;text-align-last:justify;">was 3.54%. The all-time low of 3.3% was hit</div>
<div class="abs" style="left:673.2px;top:673px;font-size:21px;line-height:25px;height:25px;">in 2013. In 2007, the average was 6.3%.</div>
<div class="rule" style="left:63px;top:816.7px;width:760px;"></div>
<div class="abs" style="left:75.5px;top:824px;font-size:15px;line-height:19px;height:19px;width:735.4px;white-space:normal;text-align:justify;text-align-last:justify;color:#5a5a5a;-webkit-text-stroke:0.22px #fff;">Interest rates may fluctuate suddenly and dramatically. Data from sources deemed reliable but not</div>
<div class="abs" style="left:75.5px;top:841px;font-size:15px;line-height:19px;height:19px;width:735.4px;white-space:normal;text-align:justify;text-align-last:justify;color:#5a5a5a;-webkit-text-stroke:0.22px #fff;">guaranteed. Anyone interested in residential home loans should consult with a qualified mortgage</div>
<div class="abs" style="left:75.5px;top:858px;font-size:15px;line-height:19px;height:19px;color:#5a5a5a;-webkit-text-stroke:0.22px #fff;">professional and their accountant.</div>
<div class="logo" style="top:819.70px"><span style="left:916.37px;transform:scale(1.017,1.075)">C</span><span style="left:949.28px;transform:scale(1.100,1.075)">O</span><span style="left:984.70px;transform:scale(1.232,1.0)">M</span><span style="left:1028.37px;transform:scale(0.933,1.0)">P</span><span style="left:1054.41px;transform:scale(1.144,1.0)">A</span><span style="left:1088.22px;transform:scale(0.845,1.075)">S</span><span style="left:1115.22px;transform:scale(0.845,1.075)">S</span></div><svg width="1200" height="900" viewBox="0 0 1200 900"><line x1="960.3" y1="848.0" x2="970.3" y2="839.0" stroke="#0a0a0a" stroke-width="3.7"/></svg>
</body>
</html>
